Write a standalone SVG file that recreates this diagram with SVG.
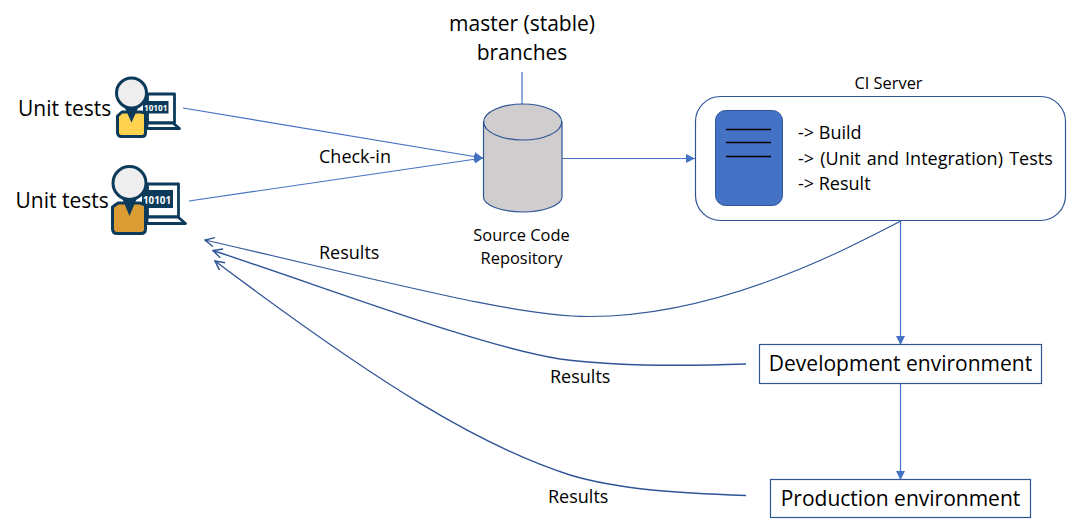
<svg xmlns="http://www.w3.org/2000/svg" width="1078" height="526" viewBox="0 0 1078 526">
<defs>
<marker id="tri" viewBox="0 0 10 10" refX="10" refY="5" markerWidth="9" markerHeight="9" markerUnits="userSpaceOnUse" orient="auto"><path d="M0 0L10 5L0 10Z" fill="#4472c4"/></marker>
<marker id="open" viewBox="0 0 12 12" refX="11" refY="6" markerWidth="11" markerHeight="11" markerUnits="userSpaceOnUse" orient="auto"><path d="M1 1L11 6L1 11" fill="none" stroke="#2f5597" stroke-width="1.6"/></marker>
</defs>
<style>
text{font-family:"Open Sans","Noto Sans","Liberation Sans",sans-serif;fill:#000}
.c{fill:none;stroke:#4472c4;stroke-width:1.2}
.r{fill:none;stroke:#2f5597;stroke-width:1.4;marker-end:url(#open)}
.box{fill:#fff;stroke:#2f5597;stroke-width:1.2}
.navy{stroke:#0b3a5b;stroke-linejoin:round}
.m{font-size:18px}
.l{font-size:21px}
.s{font-size:16.400px}
.bin{font-weight:700;fill:#fff}
</style>
<rect width="1078" height="526" fill="#fff"/>
<g id="connectors">
<path class="c" d="M183 108L483 158" marker-end="url(#tri)"/>
<path class="c" d="M189 201L483 158" marker-end="url(#tri)"/>
<path class="c" d="M522 72V105"/>
<path class="c" d="M562 158.500H695" marker-end="url(#tri)"/>
<path class="c" d="M900.500 220V345" marker-end="url(#tri)"/>
<path class="c" d="M900.500 384V480" marker-end="url(#tri)"/>
<path class="r" style="stroke-width:1.1" d="M901 221C845 250 720 316 590 316.500C520 317 400 285 205 240"/>
<path class="r" d="M746 364C690 366 620 367 560 359C480 346 350 296 213 250.500"/>
<path class="r" d="M746 495.500C680 493 620 490 570 475C480 446 380 385 215 261"/>
</g>
<g id="user1">
<rect class="navy" x="147.500" y="94" width="27" height="29" fill="#fff" stroke-width="2.800"/>
<rect x="143" y="101" width="25.500" height="12.500" fill="#0b3a5b"/>
<text class="bin" x="144" y="110.500" style="font-size:8.200px">10101</text>
<path class="navy" d="M147 123H173L179.500 128.500H147Z" fill="#fff" stroke-width="2.800"/>
<path d="M138 108L142 108.500L141 113L137.500 112.500Z" fill="#fff"/>
<path class="navy" d="M117.500 116L122 112H141L145.500 113V133Q145.500 136.500 142 136.500H121.500Q118 136.500 117.500 133Z" fill="#ffd34f" stroke-width="3"/>
<path d="M125 108H138L131.500 122.500Z" fill="#0b3a5b"/>
<circle class="navy" cx="131.500" cy="93" r="15" fill="#eee" stroke-width="3"/>
</g>
<g id="user2">
<rect class="navy" x="147.500" y="184" width="31" height="33" fill="#fff" stroke-width="2.800"/>
<rect x="142" y="190" width="31" height="18" fill="#0b3a5b"/>
<text class="bin" x="143" y="203.500" style="font-size:9.800px">10101</text>
<path class="navy" d="M147 217H178L185.500 223.500H147Z" fill="#fff" stroke-width="2.800"/>
<path d="M138 199L142 199.500L141 204L137.500 203.500Z" fill="#fff"/>
<path class="navy" d="M112.500 207L118 203H140L145.500 205V229Q145.500 233.500 141 233.500H117Q113 233.500 112.500 229Z" fill="#dc9c34" stroke-width="3"/>
<path d="M122 198H137L129.500 216Z" fill="#0b3a5b"/>
<circle class="navy" cx="129.500" cy="183" r="16.500" fill="#eee" stroke-width="3"/>
</g>
<g id="label-unit1"><text class="l" x="18" y="115.500">Unit tests</text></g>
<g id="label-unit2"><text class="l" x="15.500" y="207.500">Unit tests</text></g>
<g id="master"><text class="l" x="522" y="31" text-anchor="middle">master (stable)</text><text class="l" x="522" y="60" text-anchor="middle">branches</text></g>
<g id="repo">
<path d="M483.500 122V197C483.500 205 501 212 522.500 212S562 205 562 197V122Z" fill="#cfcdcd" stroke="#2f5597" stroke-width="1.200"/>
<ellipse cx="522.700" cy="122" rx="39" ry="18" fill="#cfcdcd" stroke="#2f5597" stroke-width="1.200"/>
<text class="s" x="521.500" y="241" text-anchor="middle">Source Code</text>
<text class="s" x="521.500" y="264" text-anchor="middle">Repository</text>
</g>
<g id="ci-server">
<text class="s" x="888.500" y="88.500" text-anchor="middle">CI Server</text>
<rect class="box" x="695.500" y="96.500" width="370" height="124" rx="25"/>
<rect x="715.500" y="110.500" width="67" height="95" rx="10" fill="#4472c4" stroke="#2f5597"/>
<path d="M726 129.500H771M726 142.500H771M726 156.500H771" stroke="#000" stroke-width="1.500"/>
<text class="m" x="798" y="138.500">-&gt; Build</text>
<text class="m" x="798" y="164.500" style="word-spacing:1.500px">-&gt; (Unit and Integration) Tests</text>
<text class="m" x="798" y="189.500">-&gt; Result</text>
</g>
<g id="dev-env"><rect class="box" x="759.500" y="344.500" width="282" height="39"/><text class="l" x="900.500" y="370.500" text-anchor="middle">Development environment</text></g>
<g id="prod-env"><rect class="box" x="770.500" y="479.500" width="260" height="38"/><text class="l" x="900.500" y="505.500" text-anchor="middle">Production environment</text></g>
<g id="edge-labels">
<text class="m" x="319" y="162.500">Check-in</text>
<text class="m" x="319" y="258.500">Results</text>
<text class="m" x="550" y="382.500">Results</text>
<text class="m" x="548" y="502.500">Results</text>
</g>
</svg>
